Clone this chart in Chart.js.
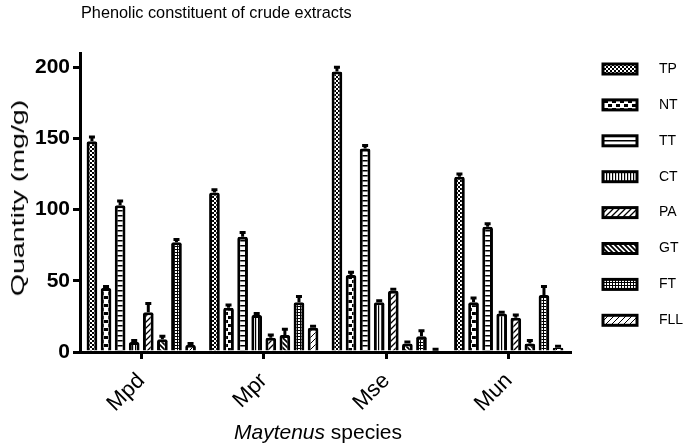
<!DOCTYPE html>
<html>
<head>
<meta charset="utf-8">
<script src="https://cdn.jsdelivr.net/npm/chart.js@4/dist/chart.umd.min.js"></script>
<style>
  body { margin: 0; background: #fff; }
  #wrap { position: relative; width: 685px; height: 445px; }
  #title { position: absolute; left: 81px; top: 3px; font: 16.3px "Liberation Sans", Arial, sans-serif; color: #000; }
  #xtitle { position: absolute; left: 0; width: 636px; text-align: center; top: 420px; font: 21px "Liberation Sans", Arial, sans-serif; color: #000; }
  #ytitle { position: absolute; left: 18px; top: 198px; width: 0; height: 0; }
  #ytitle span { position: absolute; white-space: nowrap; font: 19px "Liberation Sans", Arial, sans-serif; color: #000;
                 transform: translate(-50%, -50%) rotate(-90deg) scaleX(1.5); left: 0; top: 0; }
</style>
</head>
<body>
<div id="wrap">
  <canvas id="myChart" width="685" height="445"></canvas>
  <div id="title">Phenolic constituent of crude extracts</div>
  <div id="xtitle"><i>Maytenus</i> species</div>
  <div id="ytitle"><span>Quantity (mg/g)</span></div>
</div>
<script>
// Datos
var species = ['Mpd', 'Mpr', 'Mse', 'Mun'];
var seriesNames = ['TP', 'NT', 'TT', 'CT', 'PA', 'GT', 'FT', 'FLL'];
var TP  = [148, 112, 197, 123];
var NT  = [45, 31, 54, 35];
var TT  = [103, 81, 143, 88];
var CT  = [7, 26, 35, 27];
var PA  = [28, 10, 43, 24];
var GT  = [9, 12, 6, 6];
var FT  = [77, 35, 11, 40];
var FLL = [5, 17, 1, 3];
// error (SEM) de cada barra
var errTP  = [3, 2, 3, 2];
var errNT  = [1, 2, 2, 3];
var errTT  = [3, 3, 2, 2];
var errCT  = [1, 1, 1, 1];
var errPA  = [6, 2, 1, 2];
var errGT  = [2, 4, 1, 2];
var errFT  = [2, 4, 4, 6];
var errFLL = [1, 1, 1, 1];
var yTicks = [0, 50, 100, 150, 200];

var values = [TP, NT, TT, CT, PA, GT, FT, FLL];
var errors = [errTP, errNT, errTT, errCT, errPA, errGT, errFT, errFLL];

// Crear los patrones de relleno
function makePattern(w, h, draw) {
    var c = document.createElement('canvas');
    c.width = w; c.height = h;
    var g = c.getContext('2d');
    g.fillStyle = '#fff';
    g.fillRect(0, 0, w, h);
    g.fillStyle = '#000';
    g.strokeStyle = '#000';
    draw(g);
    return document.createElement('canvas').getContext('2d').createPattern(c, 'repeat');
}

var patterns = [
    makePattern(4, 4, function (g) { g.fillRect(0, 0, 2, 2); g.fillRect(2, 2, 2, 2); }),
    makePattern(8, 8, function (g) { g.fillRect(0, 0, 4, 3); g.fillRect(4, 4, 4, 3); }),
    makePattern(4, 5, function (g) { g.fillRect(0, 0, 4, 1.5); }),
    makePattern(3, 4, function (g) { g.fillRect(0, 0, 1.2, 4); }),
    makePattern(6, 6, function (g) {
        g.lineWidth = 1.3;
        g.beginPath(); g.moveTo(0, 6); g.lineTo(6, 0); g.moveTo(-1, 1); g.lineTo(1, -1); g.moveTo(5, 7); g.lineTo(7, 5); g.stroke();
    }),
    makePattern(5, 5, function (g) {
        g.lineWidth = 1.8;
        g.beginPath(); g.moveTo(0, 0); g.lineTo(5, 5); g.moveTo(4, -1); g.lineTo(6, 1); g.moveTo(-1, 4); g.lineTo(1, 6); g.stroke();
    }),
    makePattern(3, 3, function (g) { g.fillRect(0, 0, 1, 3); g.fillRect(0, 0, 3, 1); }),
    makePattern(6, 6, function (g) {
        g.lineWidth = 1;
        g.beginPath(); g.moveTo(0, 6); g.lineTo(6, 0); g.moveTo(-1, 1); g.lineTo(1, -1); g.moveTo(5, 7); g.lineTo(7, 5); g.stroke();
    })
];

var datasets = seriesNames.map(function (name, i) {
    return {
        label: name,
        data: values[i],
        errors: errors[i],
        backgroundColor: patterns[i],
        borderColor: '#000',
        borderWidth: 3,
        borderRadius: 2,
        borderSkipped: 'bottom',
        categoryPercentage: 0.92,
        barPercentage: 0.76
    };
});

// Dibujar las barras de error (solo hacia arriba)
var errorBars = {
    id: 'errorBars',
    afterDatasetsDraw: function (chart) {
        var ctx = chart.ctx;
        var y = chart.scales.y;
        ctx.save();
        ctx.strokeStyle = '#000';
        ctx.lineWidth = 3;
        chart.data.datasets.forEach(function (ds, i) {
            var meta = chart.getDatasetMeta(i);
            meta.data.forEach(function (bar, j) {
                var top = y.getPixelForValue(ds.data[j] + ds.errors[j]);
                ctx.beginPath();
                ctx.moveTo(bar.x, bar.y);
                ctx.lineTo(bar.x, top);
                ctx.moveTo(bar.x - 3, top);
                ctx.lineTo(bar.x + 3, top);
                ctx.stroke();
            });
        });
        ctx.restore();
    }
};

// Leyenda a la derecha, dibujada a mano
var sideLegend = {
    id: 'sideLegend',
    afterDraw: function (chart) {
        var ctx = chart.ctx;
        var x0 = chart.chartArea.right + 33;
        ctx.save();
        ctx.font = '14px "Liberation Sans", Arial, sans-serif';
        ctx.textBaseline = 'middle';
        chart.data.datasets.forEach(function (ds, i) {
            var cy = 69 + i * 35.9;
            ctx.fillStyle = ds.backgroundColor;
            ctx.fillRect(x0, cy - 5, 34, 10);
            ctx.strokeStyle = '#000';
            ctx.lineWidth = 3;
            ctx.strokeRect(x0, cy - 5, 34, 10);
            ctx.fillStyle = '#000';
            ctx.fillText(ds.label, x0 + 56, cy);
        });
        ctx.restore();
    }
};

var ctx = document.getElementById('myChart').getContext('2d');
var myChart = new Chart(ctx, {
    type: 'bar',
    data: { labels: species, datasets: datasets },
    plugins: [errorBars, sideLegend],
    options: {
        responsive: false,
        animation: false,
        layout: { padding: { top: 53, bottom: 0, left: 0, right: 115 } },
        plugins: {
            title: { display: false },
            tooltip: { enabled: false },
            legend: { display: false }
        },
        scales: {
            x: {
                afterFit: function (axis) { axis.height = 93; },
                grid: { display: true, drawOnChartArea: false, offset: false, color: '#000', lineWidth: 3, tickLength: 7 },
                border: { color: '#000', width: 3 },
                ticks: {
                    color: '#000',
                    maxRotation: 45,
                    minRotation: 45,
                    padding: 9,
                    font: { family: 'Liberation Sans', size: 22 }
                }
            },
            y: {
                min: 0,
                max: 210,
                afterFit: function (axis) { axis.width = 80; },
                afterBuildTicks: function (axis) {
                    axis.ticks = yTicks.map(function (v) { return { value: v }; });
                },
                grid: { drawOnChartArea: false, color: '#000', lineWidth: 3, tickLength: 7 },
                border: { color: '#000', width: 3 },
                ticks: {
                    color: '#000',
                    padding: 3,
                    font: { family: 'Liberation Sans', size: 21, weight: 'bold' }
                }
            }
        }
    }
});
</script>
</body>
</html>
